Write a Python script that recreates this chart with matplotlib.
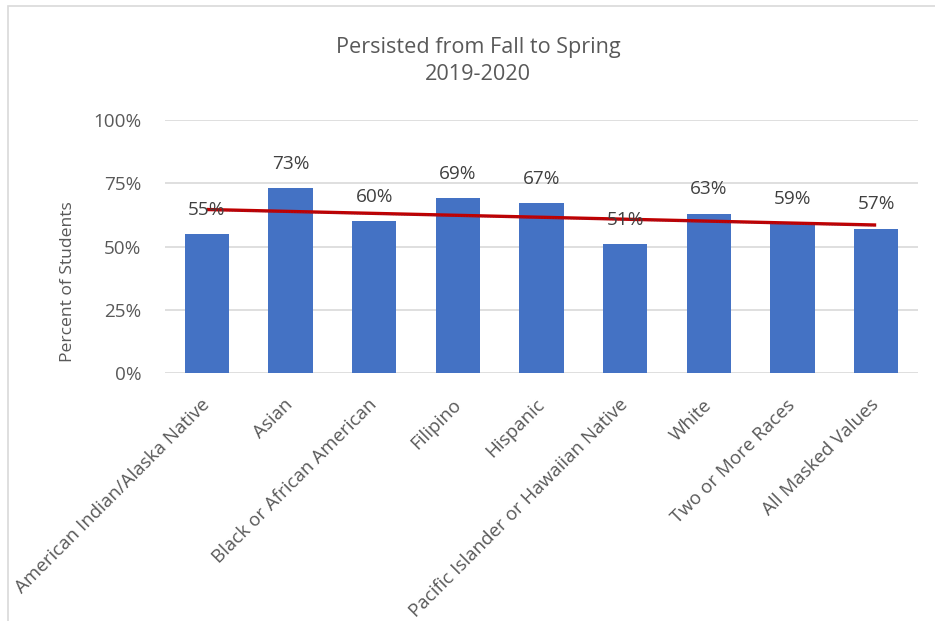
import numpy as np
import matplotlib
matplotlib.use("Agg")
import matplotlib.pyplot as plt
from matplotlib.patches import Rectangle
from matplotlib.ticker import PercentFormatter

# === Data ===
categories = [
    "American Indian/Alaska Native", "Asian", "Black or African American",
    "Filipino", "Hispanic", "Pacific Islander or Hawaiian Native",
    "White", "Two or More Races", "All Masked Values",
]
persisted_pct = [55, 73, 60, 69, 67, 51, 63, 59, 57]
y_ticks = [0, 25, 50, 75, 100]

plt.rcParams["font.family"] = ["Open Sans", "DejaVu Sans"]
text_col = "#595959"

W, H = 935, 621
fig = plt.figure(figsize=(W / 100, H / 100), dpi=100)
ax = fig.add_axes([165 / W, 1 - 373 / H, (918 - 165) / W, (373 - 120) / H])

x = np.arange(1, len(categories) + 1)
ax.bar(x, persisted_pct, width=0.53, color="#4472C4", zorder=3)

# data labels
for xi, v in zip(x, persisted_pct):
    ax.annotate(f"{v}%", (xi, v), xytext=(0, 17.5), textcoords="offset points",
                ha="center", va="center", fontsize=13.7, color="#404040", zorder=5)

# linear trendline
slope, intercept = np.polyfit(x, persisted_pct, 1)
tx = np.array([x[0], x[-1]])
ax.plot(tx, slope * tx + intercept, color="#C00000", lw=2.4, zorder=4,
        solid_capstyle="butt")
ax.plot(tx, slope * tx + intercept - 0.3, color="#8B1A3A", lw=0.8, ls=(0, (1, 1.5)),
        zorder=4, alpha=0.8)

ax.set_xlim(0.5, len(categories) + 0.5)
ax.set_ylim(0, 100)
ax.set_yticks(y_ticks)
ax.yaxis.set_major_formatter(PercentFormatter(decimals=0))
ax.grid(axis="y", color="#D9D9D9", lw=1.2, zorder=0)
for s in ax.spines.values():
    s.set_visible(False)
ax.tick_params(axis="y", length=0, pad=17, labelsize=13.6, labelcolor=text_col)
ax.tick_params(axis="x", length=0, pad=21, labelsize=13.5, labelcolor=text_col)
ax.set_xticks(x)
ax.set_xticklabels(categories, rotation=45, ha="right", va="center",
                   rotation_mode="anchor")

fig.text(68 / W, 1 - 282 / H, "Percent of Students", rotation=90, ha="center",
         va="center", fontsize=12.6, color=text_col)
fig.text(478 / W, 1 - 47 / H, "Persisted from Fall to Spring", ha="center",
         va="center", fontsize=15.6, color=text_col)
fig.text(478 / W, 1 - 75 / H, "2019-2020", ha="center", va="center",
         fontsize=15.6, color=text_col)

# chart border
fig.patches.append(Rectangle((8 / W, -0.1), 1.2, (H - 6) / H + 0.1,
                             transform=fig.transFigure, fill=False,
                             edgecolor="#D9D9D9", lw=1.2))

fig.savefig("out.png", dpi=100)
